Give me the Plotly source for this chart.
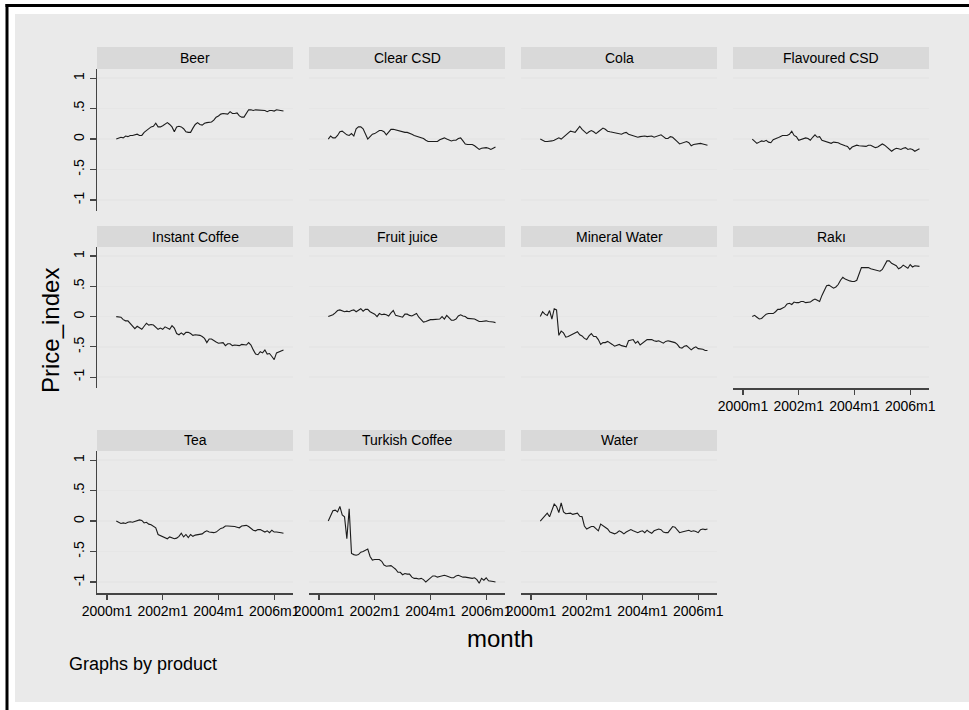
import plotly.graph_objects as go

W, H = 969, 710

# monthly index: 0 = 2000m1; data run 2000m5 .. 2006m5
months = list(range(4, 77))
x_tickvals = [0, 24, 48, 72]
x_ticktext = ["2000m1", "2002m1", "2004m1", "2006m1"]
y_tickvals = [-1, -0.5, 0, 0.5, 1]
y_ticktext = ["-1", "-.5", "0", ".5", "1"]

products = ["Beer", "Clear CSD", "Cola", "Flavoured CSD", "Instant Coffee", "Fruit juice",
            "Mineral Water", "Rakı", "Tea", "Turkish Coffee", "Water"]

beer = [0.00, 0.01, 0.03, 0.02, 0.05, 0.04, 0.06, 0.06, 0.07, 0.08,
        0.06, 0.06, 0.11, 0.14, 0.16, 0.20, 0.21, 0.26, 0.20, 0.20,
        0.22, 0.25, 0.27, 0.24, 0.20, 0.12, 0.20, 0.21, 0.20, 0.17,
        0.12, 0.11, 0.11, 0.18, 0.24, 0.27, 0.24, 0.23, 0.26, 0.27,
        0.28, 0.28, 0.31, 0.36, 0.38, 0.41, 0.42, 0.42, 0.41, 0.45,
        0.42, 0.42, 0.43, 0.38, 0.36, 0.36, 0.41, 0.48, 0.48, 0.47,
        0.48, 0.48, 0.48, 0.48, 0.47, 0.45, 0.47, 0.47, 0.46, 0.48,
        0.47, 0.46, 0.46]
clear_csd = [0.00, 0.05, 0.02, 0.02, 0.06, 0.12, 0.13, 0.10, 0.07, 0.06,
             0.09, 0.05, 0.17, 0.20, 0.20, 0.17, 0.07, 0.00, 0.04, 0.08,
             0.09, 0.11, 0.14, 0.14, 0.12, 0.07, 0.12, 0.16, 0.16, 0.15,
             0.13, 0.12, 0.11, 0.11, 0.11, 0.10, 0.08, 0.06, 0.05, 0.04,
             0.03, 0.01, -0.02, -0.04, -0.04, -0.04, -0.04, -0.04, -0.01, 0.00,
             0.02, 0.00, -0.02, -0.03, -0.02, -0.02, 0.01, 0.02, -0.03, -0.08,
             -0.09, -0.09, -0.09, -0.11, -0.14, -0.17, -0.15, -0.14, -0.14, -0.15,
             -0.17, -0.15, -0.13]
cola = [0.00, -0.02, -0.04, -0.04, -0.04, -0.03, -0.02, 0.00, 0.02, 0.00,
        0.03, 0.07, 0.10, 0.13, 0.12, 0.11, 0.16, 0.21, 0.16, 0.12,
        0.09, 0.12, 0.14, 0.12, 0.09, 0.12, 0.15, 0.18, 0.16, 0.13,
        0.12, 0.11, 0.10, 0.10, 0.08, 0.08, 0.10, 0.11, 0.08, 0.07,
        0.06, 0.05, 0.03, 0.04, 0.05, 0.05, 0.04, 0.04, 0.05, 0.03,
        0.04, 0.05, 0.07, 0.04, 0.01, 0.01, 0.04, 0.03, 0.00, -0.04,
        -0.08, -0.07, -0.05, -0.04, -0.06, -0.11, -0.09, -0.08, -0.07, -0.07,
        -0.08, -0.09, -0.10]
flavoured_csd = [0.00, -0.03, -0.07, -0.05, -0.03, -0.04, -0.02, -0.05, -0.06, -0.01,
                 0.00, 0.02, 0.04, 0.06, 0.06, 0.06, 0.08, 0.13, 0.06, 0.04,
                 -0.02, -0.01, 0.01, 0.02, 0.01, -0.02, 0.03, 0.07, 0.03, 0.04,
                 -0.02, -0.03, -0.04, -0.06, -0.07, -0.05, -0.05, -0.06, -0.08, -0.10,
                 -0.11, -0.12, -0.17, -0.13, -0.12, -0.10, -0.11, -0.11, -0.12, -0.12,
                 -0.10, -0.10, -0.12, -0.14, -0.13, -0.10, -0.08, -0.10, -0.13, -0.17,
                 -0.20, -0.17, -0.15, -0.16, -0.17, -0.15, -0.14, -0.17, -0.16, -0.17,
                 -0.20, -0.18, -0.16]
instant_coffee = [0.00, 0.00, -0.01, -0.05, -0.07, -0.07, -0.12, -0.15, -0.20, -0.16,
                  -0.19, -0.21, -0.16, -0.11, -0.14, -0.13, -0.14, -0.17, -0.21, -0.19,
                  -0.21, -0.17, -0.19, -0.21, -0.15, -0.19, -0.28, -0.30, -0.27, -0.30,
                  -0.26, -0.26, -0.28, -0.31, -0.30, -0.30, -0.31, -0.33, -0.36, -0.43,
                  -0.37, -0.37, -0.40, -0.42, -0.44, -0.43, -0.43, -0.48, -0.45, -0.45,
                  -0.48, -0.47, -0.47, -0.48, -0.46, -0.47, -0.47, -0.43, -0.47, -0.55,
                  -0.62, -0.63, -0.58, -0.60, -0.55, -0.62, -0.61, -0.66, -0.71, -0.60,
                  -0.58, -0.56, -0.55]
fruit_juice = [0.00, 0.01, 0.03, 0.06, 0.10, 0.11, 0.10, 0.08, 0.09, 0.08,
               0.10, 0.11, 0.08, 0.10, 0.13, 0.09, 0.12, 0.12, 0.08, 0.06,
               0.04, 0.00, 0.05, 0.03, 0.04, 0.03, 0.01, 0.06, 0.10, 0.02,
               0.01, 0.01, -0.01, 0.04, 0.04, 0.02, 0.01, 0.03, 0.05, -0.01,
               -0.06, -0.09, -0.08, -0.06, -0.05, -0.05, -0.05, -0.05, -0.04, 0.00,
               -0.04, 0.02, -0.03, -0.06, -0.06, -0.04, 0.01, 0.03, 0.01, 0.00,
               -0.03, -0.03, -0.03, -0.04, -0.06, -0.08, -0.08, -0.07, -0.07, -0.08,
               -0.08, -0.09, -0.10]
mineral_water = [0.00, 0.08, 0.04, 0.02, 0.10, -0.04, 0.13, 0.11, -0.31, -0.24,
                 -0.27, -0.34, -0.33, -0.31, -0.28, -0.26, -0.25, -0.30, -0.32, -0.36,
                 -0.38, -0.32, -0.28, -0.33, -0.33, -0.38, -0.46, -0.43, -0.43, -0.41,
                 -0.43, -0.46, -0.49, -0.47, -0.46, -0.48, -0.49, -0.50, -0.40, -0.39,
                 -0.38, -0.44, -0.41, -0.47, -0.44, -0.40, -0.38, -0.38, -0.38, -0.40,
                 -0.41, -0.40, -0.42, -0.44, -0.41, -0.40, -0.41, -0.42, -0.43, -0.46,
                 -0.51, -0.52, -0.49, -0.48, -0.52, -0.55, -0.52, -0.50, -0.53, -0.53,
                 -0.54, -0.56, -0.56]
raki = [0.00, 0.02, -0.01, -0.04, -0.03, 0.00, 0.04, 0.05, 0.05, 0.05,
        0.08, 0.12, 0.12, 0.14, 0.16, 0.21, 0.22, 0.20, 0.24, 0.23,
        0.23, 0.25, 0.25, 0.23, 0.23, 0.24, 0.27, 0.29, 0.27, 0.25,
        0.35, 0.43, 0.51, 0.52, 0.49, 0.47, 0.49, 0.53, 0.60, 0.65,
        0.62, 0.60, 0.59, 0.58, 0.58, 0.60, 0.72, 0.81, 0.81, 0.81,
        0.81, 0.79, 0.78, 0.76, 0.75, 0.75, 0.78, 0.86, 0.92, 0.92,
        0.88, 0.86, 0.84, 0.79, 0.81, 0.85, 0.83, 0.80, 0.86, 0.82,
        0.84, 0.83, 0.83]
tea = [0.00, -0.02, -0.04, -0.03, -0.04, -0.02, -0.01, -0.02, -0.01, 0.01,
       0.02, 0.01, -0.03, -0.02, -0.05, -0.06, -0.08, -0.11, -0.22, -0.24,
       -0.26, -0.27, -0.29, -0.26, -0.28, -0.29, -0.28, -0.25, -0.20, -0.26,
       -0.22, -0.27, -0.22, -0.25, -0.23, -0.22, -0.22, -0.21, -0.18, -0.16,
       -0.18, -0.19, -0.19, -0.18, -0.15, -0.12, -0.11, -0.08, -0.08, -0.08,
       -0.08, -0.09, -0.10, -0.11, -0.08, -0.07, -0.07, -0.09, -0.12, -0.15,
       -0.16, -0.14, -0.14, -0.16, -0.18, -0.16, -0.19, -0.15, -0.18, -0.18,
       -0.18, -0.19, -0.20]
turkish_coffee = [0.00, 0.08, 0.17, 0.18, 0.15, 0.24, 0.10, 0.07, -0.29, 0.20,
                  -0.53, -0.55, -0.56, -0.55, -0.51, -0.50, -0.48, -0.46, -0.58, -0.64,
                  -0.63, -0.63, -0.63, -0.66, -0.72, -0.74, -0.73, -0.73, -0.76, -0.79,
                  -0.84, -0.84, -0.88, -0.86, -0.87, -0.87, -0.92, -0.94, -0.94, -0.95,
                  -0.94, -0.96, -1.00, -0.97, -0.93, -0.90, -0.90, -0.92, -0.91, -0.90,
                  -0.89, -0.90, -0.92, -0.93, -0.93, -0.90, -0.89, -0.91, -0.92, -0.92,
                  -0.93, -0.93, -0.94, -0.93, -0.96, -1.02, -0.94, -0.97, -0.93, -0.98,
                  -0.98, -0.99, -1.00]
water = [0.00, 0.04, 0.09, 0.13, 0.07, 0.17, 0.28, 0.24, 0.14, 0.30,
         0.15, 0.12, 0.12, 0.13, 0.11, 0.12, 0.13, 0.08, 0.07, -0.08,
         -0.13, -0.11, -0.09, -0.09, -0.13, -0.16, -0.05, -0.08, -0.10, -0.13,
         -0.18, -0.20, -0.21, -0.19, -0.16, -0.18, -0.21, -0.18, -0.16, -0.14,
         -0.16, -0.17, -0.19, -0.17, -0.16, -0.19, -0.15, -0.18, -0.20, -0.16,
         -0.14, -0.13, -0.14, -0.18, -0.19, -0.19, -0.14, -0.09, -0.10, -0.14,
         -0.19, -0.18, -0.17, -0.16, -0.15, -0.17, -0.16, -0.17, -0.19, -0.14,
         -0.13, -0.14, -0.13]

series = [beer, clear_csd, cola, flavoured_csd, instant_coffee, fruit_juice,
          mineral_water, raki, tea, turkish_coffee, water]
for s in series:
    assert len(s) == len(months), len(s)

FONT = "Liberation Sans, Arial, Helvetica, sans-serif"
BG = "#EAEAEA"
STRIP = "#D9D9D9"
GRID = "#E6E6E6"
AXIS = "#444444"
LINE = "#1c1c1c"

col_px = [(97, 293), (309, 505), (521, 717), (733, 929)]
row_plot_px = [(69, 211), (247, 388), (451, 593)]
row_strip_px = [(47, 69), (226, 247), (430, 451)]
bottom_axis = {7, 8, 9, 10}

def fx(px):
    return px / W

def fy(py):
    return 1 - py / H

fig = go.Figure()
layout = dict(
    width=W, height=H,
    margin=dict(l=0, r=0, t=0, b=0, pad=0, autoexpand=False),
    paper_bgcolor="white", plot_bgcolor="white",
    showlegend=False,
    font=dict(family=FONT, color="black", size=14),
)
shapes = [
    dict(type="rect", xref="paper", yref="paper", x0=fx(15), x1=1.0, y0=fy(702), y1=fy(14),
         fillcolor=BG, line=dict(width=0), layer="below"),
    dict(type="line", xref="paper", yref="paper", x0=fx(7), x1=fx(7), y0=0, y1=fy(4),
         line=dict(color="black", width=3)),
    dict(type="line", xref="paper", yref="paper", x0=fx(5.5), x1=1.0, y0=fy(5.5), y1=fy(5.5),
         line=dict(color="black", width=3)),
]
annotations = []

for i, (name, vals) in enumerate(zip(products, series)):
    r, c = divmod(i, 4)
    x0, x1 = col_px[c]
    py0, py1 = row_plot_px[r]
    sy0, sy1 = row_strip_px[r]
    sfx = "" if i == 0 else str(i + 1)
    xa, ya = "xaxis" + sfx, "yaxis" + sfx
    fig.add_trace(go.Scatter(x=months, y=vals, mode="lines", xaxis="x" + sfx, yaxis="y" + sfx,
                             line=dict(color=LINE, width=1.1), hoverinfo="skip"))
    show_x = i in bottom_axis
    layout[xa] = dict(
        domain=[fx(x0), fx(x1)], anchor="y" + sfx, range=[-4.3, 80.1],
        automargin=False,
        showgrid=False, zeroline=False,
        showline=show_x, linecolor=AXIS, linewidth=1.5,
        ticks="outside" if show_x else "", ticklen=5, tickcolor=AXIS, tickwidth=1.2,
        showticklabels=show_x, tickvals=x_tickvals, ticktext=x_ticktext,
        tickangle=0, tickfont=dict(size=14, family=FONT, color="black"),
    )
    show_y = c == 0
    layout[ya] = dict(
        domain=[fy(py1), fy(py0)], anchor="x" + sfx, range=[-1.18, 1.15],
        automargin=False,
        showgrid=True, gridcolor=GRID, gridwidth=1.5, zeroline=False,
        tickvals=y_tickvals, ticktext=y_ticktext,
        showline=show_y, linecolor=AXIS, linewidth=1.5,
        ticks="outside" if show_y else "", ticklen=6, tickcolor=AXIS, tickwidth=1.2,
        showticklabels=show_y, tickangle=-90,
        tickfont=dict(size=14, family=FONT, color="black"),
    )
    shapes.append(dict(type="rect", xref="paper", yref="paper",
                       x0=fx(x0), x1=fx(x1), y0=fy(sy1), y1=fy(sy0),
                       fillcolor=STRIP, line=dict(width=0), layer="below"))
    annotations.append(dict(text=name, xref="paper", yref="paper",
                            x=fx((x0 + x1) / 2), y=fy((sy0 + sy1) / 2),
                            xanchor="center", yanchor="middle", showarrow=False,
                            font=dict(size=14, family=FONT, color="black")))

annotations += [
    dict(text="Price_index", xref="paper", yref="paper", x=fx(50), y=fy(331),
         xanchor="center", yanchor="middle", textangle=-90, showarrow=False,
         font=dict(size=24, family=FONT, color="black")),
    dict(text="month", xref="paper", yref="paper", x=fx(500), y=fy(638),
         xanchor="center", yanchor="middle", showarrow=False,
         font=dict(size=24, family=FONT, color="black")),
    dict(text="Graphs by product", xref="paper", yref="paper", x=fx(67), y=fy(664),
         xanchor="left", yanchor="middle", showarrow=False,
         font=dict(size=18, family=FONT, color="black")),
]
layout["shapes"] = shapes
layout["annotations"] = annotations
fig.update_layout(**layout)
fig.write_html(
    "out.html",
    config={"displayModeBar": False, "staticPlot": True},
    post_script="document.body.style.margin='0px';document.body.style.padding='0px';"
                "document.body.style.overflow='hidden';",
)
